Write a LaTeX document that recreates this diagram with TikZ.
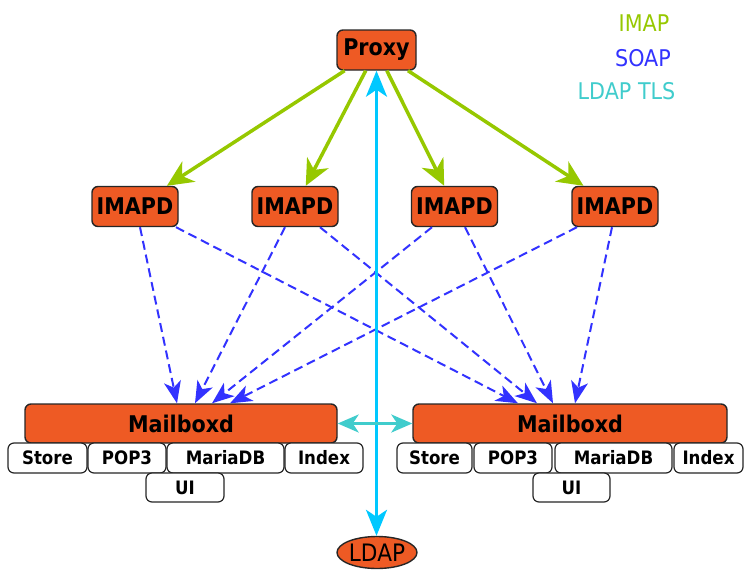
\documentclass[tikz,border=0pt]{standalone}
\usepackage{fontspec}
\newfontfamily\dvs[FakeStretch=0.9]{DejaVu Sans}
\usetikzlibrary{arrows.meta,shapes.geometric}
\definecolor{orng}{RGB}{238,90,36}
\definecolor{imapgreen}{RGB}{150,200,0}
\definecolor{soapblue}{RGB}{50,50,255}
\definecolor{ldapcyan}{RGB}{0,200,255}
\definecolor{tlsturq}{RGB}{64,204,204}
\begin{document}
\begin{tikzpicture}[x=1pt,y=-1pt,
  svc/.style={draw=black!85,line width=1.4pt,fill=orng,rounded corners=6pt,inner sep=0pt,
    font=\dvs\bfseries\fontsize{23}{23}\selectfont},
  sub/.style={draw=black!85,line width=1.2pt,fill=white,rounded corners=6pt,inner sep=0pt,
    minimum height=30pt,font=\dvs\bfseries\fontsize{18.5}{18.5}\selectfont},
  imaparrow/.style={draw=imapgreen,line width=3.5pt,-{Stealth[length=26pt,width=24pt,inset=8pt]}},
  soaparrow/.style={draw=soapblue,line width=2pt,dash pattern=on 9pt off 5pt,
    -{Stealth[length=22pt,width=17pt,inset=6pt]}},
  ldaparrow/.style={draw=ldapcyan,line width=3pt,
    {Stealth[length=26pt,width=21pt,inset=7pt]}-{Stealth[length=26pt,width=21pt,inset=7pt]}},
  tlsarrow/.style={draw=tlsturq,line width=3pt,
    {Stealth[length=21pt,width=18pt,inset=6pt]}-{Stealth[length=21pt,width=18pt,inset=6pt]}},
  legend/.style={inner sep=0pt,font=\dvs\fontsize{23}{23}\selectfont}
]
\useasboundingbox (0,0) rectangle (747,570);

% legend
\node[legend,text=imapgreen] (lgimap) at (644,23) {IMAP};
\node[legend,text=soapblue] (lgsoap) at (643,58) {SOAP};
\node[legend,text=tlsturq] (lgtls) at (626.5,91) {LDAP TLS};

% main nodes
\node[svc,minimum width=79pt,minimum height=40pt] (proxy) at (376.5,50) {Proxy};
\node[svc,minimum width=86pt,minimum height=40pt] (i1) at (135,206.5) {IMAPD};
\node[svc,minimum width=86pt,minimum height=40pt] (i2) at (295,206.5) {IMAPD};
\node[svc,minimum width=86pt,minimum height=40pt] (i3) at (454.5,206.5) {IMAPD};
\node[svc,minimum width=86pt,minimum height=40pt] (i4) at (615,206.5) {IMAPD};
\node[svc,minimum width=312pt,minimum height=39pt] (mL) at (181,423.5) {Mailboxd};
\node[svc,minimum width=314pt,minimum height=39pt] (mR) at (570,423.5) {Mailboxd};
\node[svc,ellipse,minimum width=80pt,minimum height=32pt,font=\dvs\fontsize{24}{24}\selectfont] (ldap) at (377,552.5) {LDAP};

% sub boxes left
\node[sub,minimum width=79pt] (sL) at (47.5,458) {Store};
\node[sub,minimum width=78pt] (pL) at (127,458) {POP3};
\node[sub,minimum width=117pt] (dL) at (225.5,458) {MariaDB};
\node[sub,minimum width=78pt] (xL) at (324,458) {Index};
\node[sub,minimum width=78pt,minimum height=29pt] (uL) at (185,487.5) {UI};
% sub boxes right
\node[sub,minimum width=75pt] (sR) at (434.5,458) {Store};
\node[sub,minimum width=78pt] (pR) at (513,458) {POP3};
\node[sub,minimum width=117pt] (dR) at (613.5,458) {MariaDB};
\node[sub,minimum width=69pt] (xR) at (708.5,458) {Index};
\node[sub,minimum width=77pt,minimum height=29pt] (uR) at (571.5,487.5) {UI};

% IMAP
\foreach \n in {i1,i2,i3,i4} \draw[imaparrow] (proxy) -- (\n);

% SOAP
\draw[soaparrow] ([xshift=5pt]i1.south) -- ([xshift=-4pt]mL.north);
\draw[soaparrow] ([xshift=-10pt]i2.south) -- ([xshift=14pt]mL.north);
\draw[soaparrow] ([xshift=-22.5pt]i3.south) -- ([xshift=31pt]mL.north);
\draw[soaparrow] ([xshift=-38pt]i4.south) -- ([xshift=49pt]mL.north);
\draw[soaparrow] ([xshift=41pt]i1.south) -- ([xshift=-52pt]mR.north);
\draw[soaparrow] ([xshift=25pt]i2.south) -- ([xshift=-33pt]mR.north);
\draw[soaparrow] ([xshift=10.5pt]i3.south) -- ([xshift=-17pt]mR.north);
\draw[soaparrow] ([xshift=-3pt]i4.south) -- ([xshift=5pt]mR.north);

% LDAP
\draw[ldaparrow] (proxy.south) -- (proxy.south |- ldap.north);
\draw[tlsarrow] (mL.east) -- (mR.west);
\end{tikzpicture}
\end{document}
